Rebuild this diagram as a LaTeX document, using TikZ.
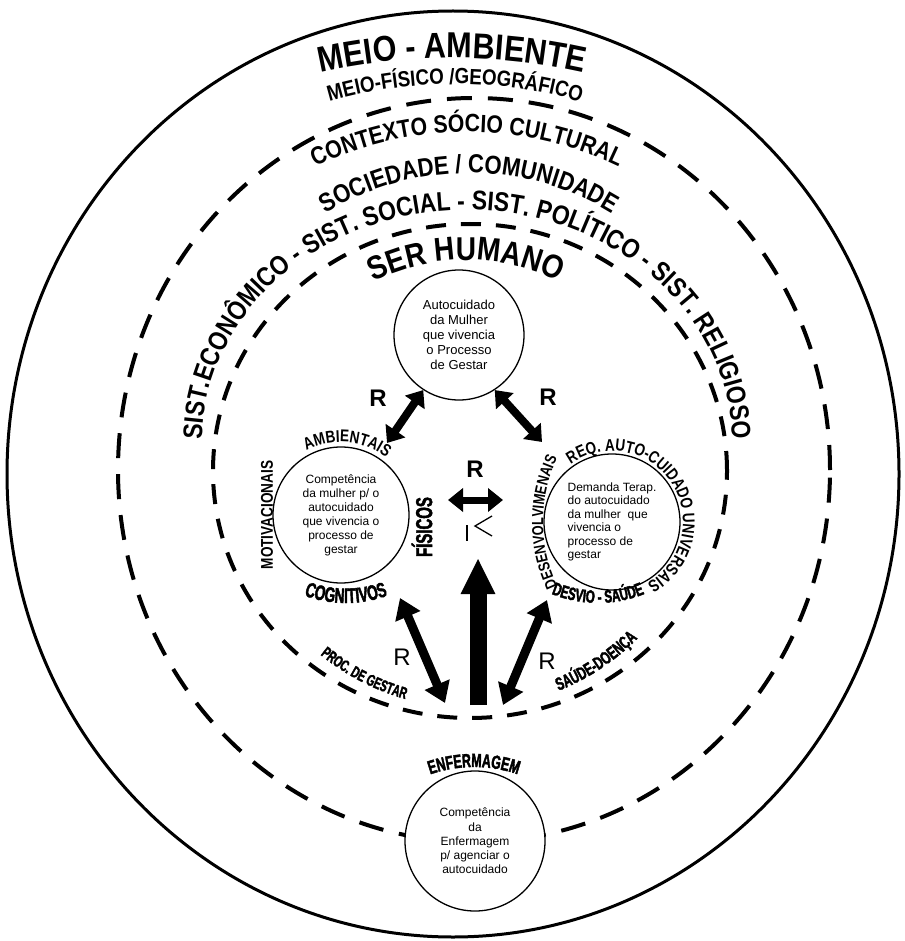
\documentclass[tikz,border=0pt]{standalone}
\usepackage{fontspec}
\setmainfont{Liberation Sans}
\newfontfamily\heavyfont[FakeStretch=0.65,FakeBold=2]{Liberation Sans Bold}
\newfontfamily\narrowfont[FakeStretch=0.8]{Liberation Sans Bold}
\newfontfamily\wordfont[FakeStretch=0.85]{Liberation Sans Bold}
\usetikzlibrary{decorations.text,arrows.meta}
\newcommand\fMA{\wordfont\fontsize{36}{36}\selectfont}
\newcommand\fMF{\wordfont\fontsize{22}{22}\selectfont}
\newcommand\fCS{\wordfont\fontsize{25}{25}\selectfont}
\newcommand\fSC{\wordfont\fontsize{26}{26}\selectfont}
\newcommand\fSI{\wordfont\fontsize{27}{27}\selectfont}
\newcommand\fSH{\wordfont\fontsize{33}{33}\selectfont}
\newcommand\fAM{\narrowfont\fontsize{17}{17}\selectfont}
\newcommand\fRQ{\narrowfont\fontsize{17}{17}\selectfont}
\newcommand\fDV{\narrowfont\fontsize{16}{16}\selectfont}
\newcommand\fCG{\heavyfont\fontsize{21}{21}\selectfont}
\newcommand\fDS{\heavyfont\fontsize{18}{18}\selectfont}
\newcommand\fEN{\heavyfont\fontsize{19}{19}\selectfont}
\newcommand\fPG{\heavyfont\fontsize{16}{16}\selectfont}
\newcommand\fSD{\heavyfont\fontsize{18}{18}\selectfont}

\begin{document}
\begin{tikzpicture}[x=1pt,y=1pt,
  circ/.style={draw,circle,fill=white,line width=1.3,inner sep=0pt,align=center},
  ring/.style={line width=4,dash pattern=on 25pt off 16pt},
  arctext/.style={decorate,decoration={text along path,text align=center,text={#1}}},
  link/.style={line width=8,{Triangle[length=15pt,width=23pt]}-{Triangle[length=15pt,width=23pt]}},
  longlink/.style={line width=9,{Triangle[length=20pt,width=26pt]}-{Triangle[length=20pt,width=26pt]}},
  rlabel/.style={font=\bfseries\fontsize{24}{24}\selectfont}]
\useasboundingbox (0,0) rectangle (904,-941);
\draw[line width=3] (453,-474) ellipse[x radius=446,y radius=463];
\draw[ring] (474,-470) ellipse[x radius=356,y radius=372];
\draw[ring,dash pattern=on 20pt off 15pt] (470,-471) ellipse[x radius=257,y radius=247];

\path[arctext={|\fMA|MEIO - AMBIENTE}] ([shift={(108:600)}]452,-658) arc[start angle=108,end angle=72,radius=600];
\path[arctext={|\fMF|MEIO-FÍSICO /GEOGRÁFICO}] ([shift={(115:450)}]455,-534) arc[start angle=115,end angle=65,radius=450];
\path[arctext={|\fCS|CONTEXTO SÓCIO CULTURAL}] ([shift={(122:350)}]467,-482) arc[start angle=122,end angle=58,radius=350];
\path[arctext={|\fSC|SOCIEDADE / COMUNIDADE}] ([shift={(135:274)}]469,-447) arc[start angle=135,end angle=45,radius=274];
\path[arctext={|\fSI|SIST.ECONÔMICO - SIST. SOCIAL - SIST. POLÍTICO - SIST. RELIGIOSO}] ([shift={(198:265 and 232)}]467,-442) arc[start angle=198,end angle=-18,x radius=265,y radius=232];
\path[arctext={|\fSH|SER HUMANO}] ([shift={(130:205)}]466,-465) arc[start angle=130,end angle=50,radius=205];

\node[circ,minimum size=130,font=\fontsize{13}{15}\selectfont] (autocuidado) at (459,-335) {Autocuidado\\da Mulher\\que vivencia\\o Processo\\de Gestar};
\node[circ,minimum size=136,font=\fontsize{12}{14}\selectfont] (competencia) at (341,-515) {Competência\\da mulher p/ o\\autocuidado\\que vivencia o\\processo de\\gestar};
\node[circ,minimum size=136,align=left,font=\fontsize{12}{13.5}\selectfont] (demanda) at (612,-522) {Demanda Terap.\\do autocuidado\\da mulher\ \ que\\vivencia o\\processo de\\gestar};
\node[circ,minimum size=140,font=\fontsize{12}{14.3}\selectfont] (enfermagem) at (475,-841) {Competência\\da\\Enfermagem\\p/ agenciar o\\autocuidado};

\path[arctext={|\fAM|AMBIENTAIS}] ([shift={(150:73)}]341,-515) arc[start angle=150,end angle=20,radius=73];
\node[rotate=90,font=\narrowfont\fontsize{17}{17}\selectfont] (motiv) at (267,-515) {MOTIVACIONAIS};
\node[rotate=90,font=\heavyfont\fontsize{23}{23}\selectfont] (fisicos) at (422,-527) {FÍSICOS};
\path[arctext={|\fCG|COGNITIVOS}] ([shift={(245:121)}]346,-482) arc[start angle=245,end angle=295,radius=121];
\path[arctext={|\fDV|DESENVOLVIMENAIS}] ([shift={(210:150)}]693,-522) arc[start angle=210,end angle=150,radius=150];
\path[arctext={|\fRQ|REQ. AUTO-CUIDADO UNIVERSAIS}] ([shift={(140:71)}]612,-522) arc[start angle=140,end angle=-75,radius=71];
\path[arctext={|\fDS|DESVIO - SAÚDE}] ([shift={(240:123)}]598,-480) arc[start angle=240,end angle=300,radius=123];
\path[arctext={|\fEN|ENFERMAGEM}] ([shift={(115:133)}]474,-900) arc[start angle=115,end angle=65,radius=133];
\path[arctext={|\fPG|PROC. DE GESTAR}] ([shift={(225:237)}]470,-471) arc[start angle=225,end angle=260,radius=237];
\path[arctext={|\fSD|SAÚDE-DOENÇA}] ([shift={(285:237)}]470,-471) arc[start angle=285,end angle=322,radius=237];

\coordinate (ambtip) at (387,-443);
\coordinate (reqtip) at (542,-442);
\coordinate (lefttip) at (448,-500);
\coordinate (righttip) at (503,-500);
\coordinate (base) at (478,-705);
\coordinate (uptip) at (478,-558);
\coordinate (cogtip) at (400,-598);
\coordinate (gesttip) at (445,-703);
\coordinate (desvtip) at (547,-600);
\coordinate (saudtip) at (503,-705);
\draw[link] (ambtip) -- (autocuidado.237);
\draw[link] (autocuidado.-57) -- (reqtip);
\draw[link,line width=7] (lefttip) -- (righttip);
\draw[line width=17,-{Triangle[length=36pt,width=32pt]}] (base) -- (uptip);
\draw[longlink] (cogtip) -- (gesttip);
\draw[longlink] (desvtip) -- (saudtip);
\draw[line width=1.3] (492,-516) -- (475,-526) -- (492,-536);
\draw[line width=1.3] (467,-525) -- (467,-541);

\node[rlabel] (r1) at (378,-398) {R};
\node[rlabel] (r2) at (548,-397) {R};
\node[rlabel] (r3) at (475,-469) {R};
\node[rlabel,font=\fontsize{24}{24}\selectfont] (r4) at (402,-657) {R};
\node[rlabel,font=\fontsize{24}{24}\selectfont] (r5) at (547,-661) {R};
\end{tikzpicture}
\end{document}
